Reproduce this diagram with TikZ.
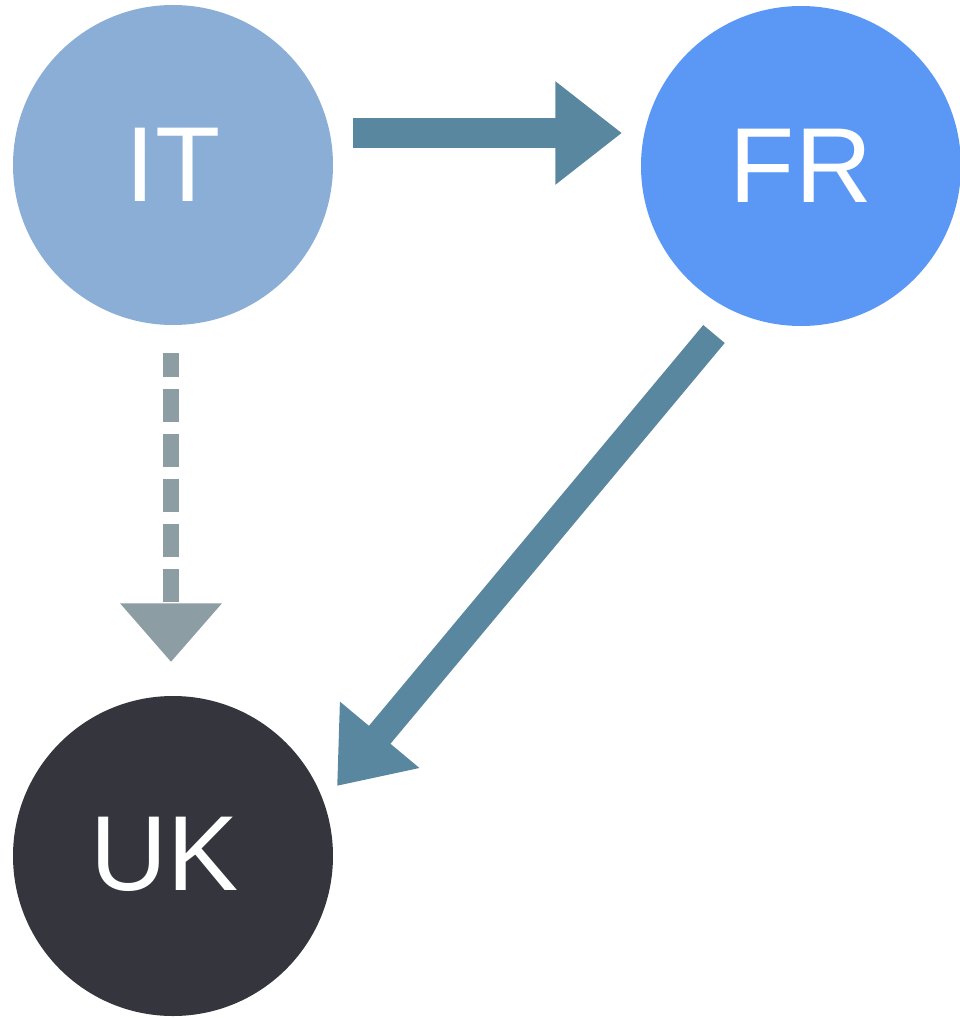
\documentclass[tikz,border=0pt]{standalone}
\usepackage{fontspec}
\setmainfont{Liberation Sans}
\usetikzlibrary{arrows.meta,calc}
\definecolor{itcol}{HTML}{8AAED6}
\definecolor{frcol}{HTML}{5B98F6}
\definecolor{ukcol}{HTML}{34353D}
\definecolor{arrcol}{HTML}{5A87A0}
\definecolor{dashcol}{HTML}{8C9DA4}
\begin{document}
\begin{tikzpicture}[x=0.75pt,y=-0.75pt,
  country/.style={circle,inner sep=0pt,minimum size=240pt,text=white,
    font=\fontsize{80}{80}\selectfont},
  solidarrow/.style={draw=arrcol,line width=22pt,
    -{Triangle[length=50pt,width=74.25pt,fill=arrcol]}},
  dasharrow/.style={draw=dashcol,line width=12pt,dash pattern=on 24.75pt off 9pt,
    dash phase=6.75pt,-{Triangle[length=44pt,width=73.5pt,fill=dashcol]}}]
\useasboundingbox (0,0) rectangle (960,1018);
\node[country,fill=itcol] (IT) at (173,165) {IT};
\node[country,fill=frcol] (FR) at (801,166) {FR};
\node[country,fill=ukcol] (UK) at (173,856) {\raisebox{3pt}{UK}\kern12pt};
\coordinate (a1s) at ($(IT.center)+(180,-32)$);
\coordinate (a1e) at ($(FR.center)+(-179,-33)$);
\coordinate (a2s) at ($(IT.center)+(-2,188)$);
\coordinate (a2e) at ($(UK.center)+(-2,-194)$);
\coordinate (a3s) at ($(FR.center)+(-87,168)$);
\coordinate (a3e) at ($(UK.center)+(164,-70)$);
\draw[solidarrow] (a1s) -- (a1e);
\draw[dasharrow] (a2s) -- (a2e);
\draw[solidarrow,line width=21pt] (a3s) -- (a3e);
\end{tikzpicture}
\end{document}
